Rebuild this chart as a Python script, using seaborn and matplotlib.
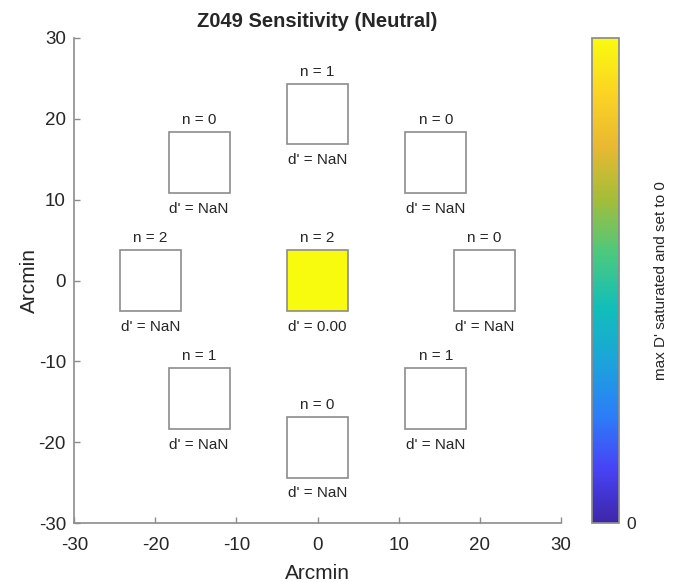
import matplotlib
matplotlib.use("Agg")
import matplotlib.pyplot as plt
from matplotlib.patches import Rectangle
import matplotlib as mpl
import numpy as np
import seaborn as sns

sns.set_theme(style="white")
plt.rcParams["font.family"] = ["Liberation Sans", "DejaVu Sans"]
plt.rcParams["axes.unicode_minus"] = False

# target locations (arcmin), counts and sensitivity per location
loc_x = [0, 0, 14.6, 20.6, 14.6, 0, -14.6, -20.6, -14.6]
loc_y = [0, 20.6, 14.6, 0, -14.6, -20.6, -14.6, 0, 14.6]
n_trials = [2, 1, 0, 0, 1, 0, 1, 2, 0]
d_prime = [0.0, np.nan, np.nan, np.nan, np.nan, np.nan, np.nan, np.nan, np.nan]
# colour level of each square (max D' saturated -> top of map)
fill_level = [1.0, np.nan, np.nan, np.nan, np.nan, np.nan, np.nan, np.nan, np.nan]

BOX = 7.5
EDGE = "#8c8c8c"
TXT = "#262626"

# parula-like colormap
parula = sns.blend_palette(
    ["#3e26a8", "#4743f6", "#2c7ef8", "#1ba4da", "#12beb9",
     "#4ac97f", "#a3bd39", "#e9b931", "#fbd424", "#f9fb0e"],
    as_cmap=True,
)

fig = plt.figure(figsize=(6.88, 5.82), dpi=100)
ax = fig.add_axes([0.108, 0.101, 0.707, 0.834])

for x, y, n, d, lvl in zip(loc_x, loc_y, n_trials, d_prime, fill_level):
    face = parula(lvl) if not np.isnan(lvl) else "white"
    ax.add_patch(Rectangle((x - BOX / 2, y - BOX / 2), BOX, BOX,
                           facecolor=face, edgecolor=EDGE, lw=1.2))
    ax.text(x, y + BOX / 2 + 0.6, f"n = {n}", ha="center", va="bottom",
            fontsize=11, color=TXT)
    dtxt = "NaN" if np.isnan(d) else f"{d:.2f}"
    ax.text(x, y - BOX / 2 - 1.1, f"d' = {dtxt}", ha="center", va="top",
            fontsize=11, color=TXT)

ax.set_xlim(-30, 30)
ax.set_ylim(-30, 30)
ax.set_xticks(np.arange(-30, 31, 10))
ax.set_yticks(np.arange(-30, 31, 10))
ax.tick_params(direction="in", length=4, width=1, color=EDGE,
               labelsize=13.5, labelcolor=TXT, bottom=True, left=True)
ax.tick_params(axis="x", pad=10)
ax.tick_params(axis="y", pad=6)
for side in ["top", "right"]:
    ax.spines[side].set_visible(False)
for side in ["left", "bottom"]:
    ax.spines[side].set_color(EDGE)
    ax.spines[side].set_linewidth(1.2)
ax.set_xlabel("Arcmin", fontsize=15, color=TXT, labelpad=7)
ax.set_ylabel("Arcmin", fontsize=15, color=TXT, labelpad=0)
ax.set_title("Z049 Sensitivity (Neutral)", fontsize=14.5, fontweight="bold",
             color=TXT, pad=8)

cax = fig.add_axes([0.861, 0.101, 0.039, 0.834])
sm = mpl.cm.ScalarMappable(cmap=parula, norm=mpl.colors.Normalize(0, 1))
cb = fig.colorbar(sm, cax=cax)
cb.set_ticks([0])
cb.ax.tick_params(length=0, labelsize=12.5, labelcolor=TXT, pad=5)
cb.outline.set_edgecolor(EDGE)
cb.set_label("max D' saturated and set to 0", fontsize=11, color=TXT,
             labelpad=13)

fig.savefig("out.png", dpi=100)
